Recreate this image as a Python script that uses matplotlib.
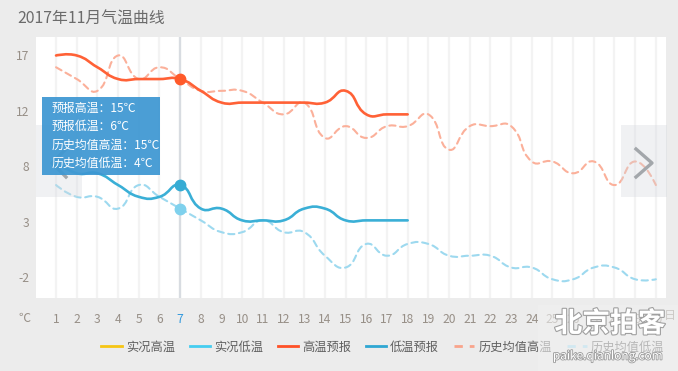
import matplotlib
matplotlib.use("Agg")
import matplotlib.pyplot as plt
import matplotlib.patheffects as pe
from matplotlib.path import Path
from matplotlib.patches import PathPatch, Rectangle
from matplotlib.lines import Line2D
import numpy as np

plt.rcParams['font.family'] = ['Noto Sans CJK SC', 'DejaVu Sans']

# data
days = list(range(1, 31))
fc_high = [17, 17, 16, 15, 15, 15, 15, 14, 13, 13, 13, 13, 13, 13, 14, 12, 12, 12]
fc_low = [8, 7, 7, 6, 5, 5, 6, 4, 4, 3, 3, 3, 4, 4, 3, 3, 3, 3]
hist_high = [16, 15, 14, 17, 15, 16, 15, 14, 14, 14, 13, 12, 13, 10, 11,
             10, 11, 11, 12, 9, 11, 11, 11, 8, 8, 7, 8, 6, 8, 6]
hist_low = [6, 5, 5, 4, 6, 5, 4, 3, 2, 2, 3, 2, 2, 0, -1,
            1, 0, 1, 1, 0, 0, 0, -1, -1, -2, -2, -1, -1, -2, -2]
y_ticks = [17, 12.3, 7.6, 2.9, -1.8]
y_labels = ['17', '12', '8', '3', '-2']
legend_names = ['实况高温', '实况低温', '高温预报', '低温预报', '历史均值高温', '历史均值低温']
hover_day = 7

W, H = 678, 371
PX_DAY, PX_DEG = 20.68, 11.78   # rough pixel scale, used for the bezier smoothing


def smooth_path(xs, ys, k=0.5):
    """echarts-like smooth line as a bezier path in data coords"""
    pts = np.column_stack([np.asarray(xs, float) * PX_DAY, np.asarray(ys, float) * PX_DEG])
    n = len(pts)
    cps = []
    for i in range(n):
        prev = pts[max(i - 1, 0)]
        nxt = pts[min(i + 1, n - 1)]
        v = (nxt - prev) * k
        d0 = np.hypot(*(pts[i] - prev))
        d1 = np.hypot(*(pts[i] - nxt))
        s = d0 + d1
        if s:
            d0, d1 = d0 / s, d1 / s
        c0, c1 = pts[i] - v * d0, pts[i] + v * d1
        if i == 0:
            c1 = pts[i]
        if i == n - 1:
            c0 = pts[i]
        cps.append((c0, c1))
    verts = [pts[0]]
    codes = [Path.MOVETO]
    for i in range(n - 1):
        verts += [cps[i][1], cps[i + 1][0], pts[i + 1]]
        codes += [Path.CURVE4] * 3
    verts = np.array(verts) / [PX_DAY, PX_DEG]
    return Path(verts, codes)


fig = plt.figure(figsize=(W / 100, H / 100), dpi=100, facecolor='#ececec')
ax = fig.add_axes([36 / W, 1 - 298 / H, 630 / W, 261 / H])
ax.set_facecolor('white')
for sp in ax.spines.values():
    sp.set_visible(False)

ax.set_xlim(0.03, 30.49)
ax.set_ylim(-3.59, 18.57)

# vertical grid
for d in days:
    ax.axvline(d, color='#f3f3f3', lw=1.6, zorder=0)
ax.axvline(hover_day, color='#d8dce1', lw=1.6, zorder=1)

series = [
    (hist_high, '#fbb09a', (0, (3, 2.2)), 1.5),
    (hist_low, '#9dd9ef', (0, (3, 2.2)), 1.5),
    (fc_high, '#ff6136', '-', 1.9),
    (fc_low, '#3aafd6', '-', 1.9),
]
for vals, col, ls, lw in series:
    xs = days[:len(vals)]
    ax.add_patch(PathPatch(smooth_path(xs, vals), fill=False, edgecolor=col,
                           lw=lw, linestyle=ls, capstyle='round', zorder=2))

# hover dots
i = hover_day - 1
ax.plot([hover_day], [hist_low[i]], 'o', ms=7.5, color='#7fd1ed', zorder=4)
ax.plot([hover_day], [fc_high[i]], 'o', ms=7.5, color='#ff5a2a', zorder=4)
ax.plot([hover_day], [fc_low[i]], 'o', ms=7.5, color='#36acd4', zorder=4)

ax.set_xticks(days)
ax.set_xticklabels([str(d) for d in days])
ax.set_yticks(y_ticks)
ax.set_yticklabels(y_labels)
ax.tick_params(length=0, labelsize=8.7, labelcolor='#978f87')
ax.tick_params(axis='x', pad=11)
ax.tick_params(axis='y', pad=5)
ax.get_xticklabels()[hover_day - 1].set_color('#3399dd')

fig.text(18 / W, 1 - 318 / H, '℃', fontsize=8.7, color='#978f87', va='center')
fig.text(664 / W, 1 - 316 / H, '日', fontsize=8.7, color='#978f87', va='center')

fig.text(17 / W, 1 - 18 / H, '2017年11月气温曲线', fontsize=11.4, color='#6b6b6b', va='center')

# navigation boxes with chevrons
for x0, tip, arm in [(36, 52, 66), (621, 652, 636)]:
    fig.add_artist(Rectangle((x0 / W, 1 - 197 / H), 46 / W, 72 / H, transform=fig.transFigure,
                             facecolor='#d5d9df', alpha=0.35, edgecolor='none', zorder=3))
    fig.add_artist(Line2D([arm / W, tip / W, arm / W], [1 - 149 / H, 1 - 163 / H, 1 - 177 / H],
                          transform=fig.transFigure, color='#a3a7ab', lw=2.4, zorder=3))

# tooltip
fig.add_artist(Rectangle((42 / W, 1 - 175 / H), 118 / W, 78 / H, transform=fig.transFigure,
                         facecolor='#3d97d2', alpha=0.93, edgecolor='none', zorder=5))
tip_lines = ['预报高温：%d℃' % fc_high[i], '预报低温：%d℃' % fc_low[i],
             '历史均值高温：%d℃' % hist_high[i], '历史均值低温：%d℃' % hist_low[i]]
for k, t in enumerate(tip_lines):
    fig.text(52 / W, 1 - (108 + 18.5 * k) / H, t, fontsize=8.6, color='white',
             va='center', zorder=6)

# legend
handles = [
    Line2D([], [], color='#f6c514', lw=2),
    Line2D([], [], color='#45cdf0', lw=2),
    Line2D([], [], color='#ff5127', lw=2),
    Line2D([], [], color='#2fa7d3', lw=2),
    Line2D([], [], color='#f9a48b', lw=2, linestyle=(0, (3, 2.5))),
    Line2D([], [], color='#a3dcf1', lw=2, linestyle=(0, (3, 2.5))),
]
fig.legend(handles, legend_names, loc='center', bbox_to_anchor=(383 / W, 1 - 347 / H),
           ncol=6, frameon=False, fontsize=8.8, labelcolor='#606060',
           handlelength=1.65, handletextpad=0.35, columnspacing=1.2)

# watermark
fig.add_artist(Rectangle((538 / W, 0), 140 / W, 66 / H, transform=fig.transFigure,
                         facecolor='#f1f1f1', alpha=0.6, edgecolor='none', zorder=6))
stroke = [pe.withStroke(linewidth=1.6, foreground='#a0a0a0')]
fig.text(610 / W, 1 - 324 / H, '北京拍客', fontsize=20, fontweight='bold', color='white',
         ha='center', va='center', path_effects=stroke, zorder=7)
fig.text(608 / W, 1 - 356 / H, 'paike.qianlong.com', fontsize=8.5, color='white',
         ha='center', va='center', path_effects=[pe.withStroke(linewidth=1.2, foreground='#9a9a9a')],
         zorder=7)

fig.savefig('out.png', dpi=100, facecolor=fig.get_facecolor())
